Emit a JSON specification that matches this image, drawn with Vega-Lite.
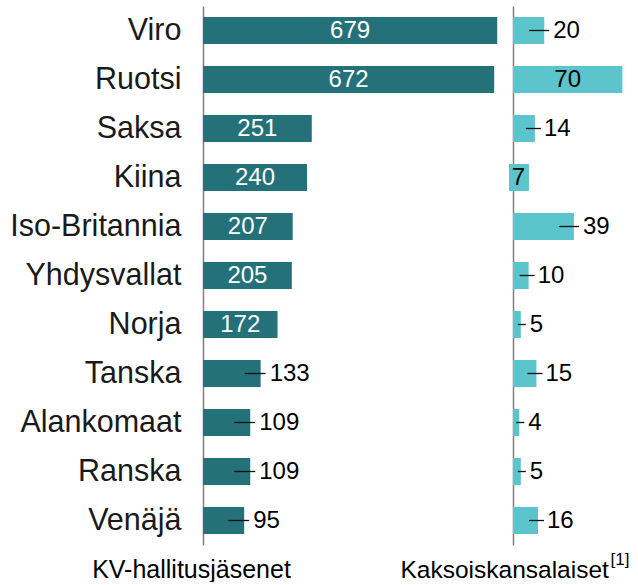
{
  "$schema": "https://vega.github.io/schema/vega-lite/v6.json",
  "padding": {"left": 9, "top": 6, "right": 0, "bottom": 0},
  "background": "white",
  "bounds": "flush",
  "spacing": 11,
  "config": {"view": {"stroke": null}, "font": "Liberation Sans"},
  "data": {"values": [
    {"maa": "Viro", "kv": 679, "kaksois": 20},
    {"maa": "Ruotsi", "kv": 672, "kaksois": 70},
    {"maa": "Saksa", "kv": 251, "kaksois": 14},
    {"maa": "Kiina", "kv": 240, "kaksois": 7},
    {"maa": "Iso-Britannia", "kv": 207, "kaksois": 39},
    {"maa": "Yhdysvallat", "kv": 205, "kaksois": 10},
    {"maa": "Norja", "kv": 172, "kaksois": 5},
    {"maa": "Tanska", "kv": 133, "kaksois": 15},
    {"maa": "Alankomaat", "kv": 109, "kaksois": 4},
    {"maa": "Ranska", "kv": 109, "kaksois": 5},
    {"maa": "Venäjä", "kv": 95, "kaksois": 16}
  ]},
  "hconcat": [
    {
      "width": 299,
      "height": 539,
      "resolve": {"scale": {"x": "independent"}, "axis": {"x": "independent"}},
      "layer": [
        {
          "mark": {"type": "bar", "color": "#25717a"},
          "encoding": {
            "y": {"field": "maa", "type": "nominal",
              "sort": ["Viro","Ruotsi","Saksa","Kiina","Iso-Britannia","Yhdysvallat","Norja","Tanska","Alankomaat","Ranska","Venäjä"],
              "scale": {"paddingInner": 0.45, "paddingOuter": 0.225},
              "axis": {"title": null, "domain": true, "domainColor": "#808080", "domainWidth": 1.5, "ticks": false, "labelFontSize": 30.5, "labelColor": "#1a1a1a", "labelPadding": 22, "labelLimit": 400}},
            "x": {"field": "kv", "type": "quantitative", "scale": {"domain": [0, 690]},
              "axis": {"title": "KV-hallitusjäsenet", "orient": "bottom", "domain": false, "ticks": false, "labels": false, "grid": false, "titleFontSize": 25, "titleFontWeight": "normal", "titleColor": "#000000", "titleX": -12, "titleY": 32, "titleAlign": "center", "titleBaseline": "alphabetic"}}
          }
        },
        {
          "transform": [{"filter": "datum.kv >= 150"}],
          "mark": {"type": "text", "color": "white", "fontSize": 24, "baseline": "middle"},
          "encoding": {
            "y": {"field": "maa", "type": "nominal", "sort": ["Viro","Ruotsi","Saksa","Kiina","Iso-Britannia","Yhdysvallat","Norja","Tanska","Alankomaat","Ranska","Venäjä"]},
            "x": {"field": "kv", "type": "quantitative", "scale": {"domain": [0, 1380]}, "axis": null},
            "text": {"field": "kv", "type": "quantitative"}
          }
        },
        {
          "transform": [{"filter": "datum.kv < 150"}],
          "mark": {"type": "rule", "color": "#111111", "strokeWidth": 1.3, "xOffset": -16, "x2Offset": 5},
          "encoding": {
            "y": {"field": "maa", "type": "nominal", "sort": ["Viro","Ruotsi","Saksa","Kiina","Iso-Britannia","Yhdysvallat","Norja","Tanska","Alankomaat","Ranska","Venäjä"]},
            "x": {"field": "kv", "type": "quantitative", "scale": {"domain": [0, 690]}, "axis": null},
            "x2": {"field": "kv"}
          }
        },
        {
          "transform": [{"filter": "datum.kv < 150"}],
          "mark": {"type": "text", "color": "#000000", "fontSize": 24, "align": "left", "baseline": "middle", "dx": 9},
          "encoding": {
            "y": {"field": "maa", "type": "nominal", "sort": ["Viro","Ruotsi","Saksa","Kiina","Iso-Britannia","Yhdysvallat","Norja","Tanska","Alankomaat","Ranska","Venäjä"]},
            "x": {"field": "kv", "type": "quantitative", "scale": {"domain": [0, 690]}, "axis": null},
            "text": {"field": "kv", "type": "quantitative"}
          }
        }
      ]
    },
    {
      "width": 125,
      "height": 539,
      "resolve": {"scale": {"x": "independent"}, "axis": {"x": "independent"}},
      "layer": [
        {
          "mark": {"type": "bar", "color": "#5bc5cb"},
          "encoding": {
            "y": {"field": "maa", "type": "nominal",
              "sort": ["Viro","Ruotsi","Saksa","Kiina","Iso-Britannia","Yhdysvallat","Norja","Tanska","Alankomaat","Ranska","Venäjä"],
              "scale": {"paddingInner": 0.45, "paddingOuter": 0.225},
              "axis": {"title": null, "domain": true, "domainColor": "#808080", "domainWidth": 1.5, "ticks": false, "labels": false}},
            "x": {"field": "kaksois", "type": "quantitative", "scale": {"domain": [0, 80]},
              "axis": {"title": "Kaksoiskansalaiset", "orient": "bottom", "domain": false, "ticks": false, "labels": false, "grid": false, "titleFontSize": 24.5, "titleFontWeight": "normal", "titleColor": "#000000", "titleX": -113, "titleY": 32, "titleAlign": "left", "titleBaseline": "alphabetic"}}
          }
        },
        {
          "transform": [{"filter": "datum.maa === 'Kiina'"}],
          "mark": {"type": "bar", "color": "#5bc5cb", "xOffset": 5, "x2Offset": -4},
          "encoding": {
            "y": {"field": "maa", "type": "nominal", "sort": ["Viro","Ruotsi","Saksa","Kiina","Iso-Britannia","Yhdysvallat","Norja","Tanska","Alankomaat","Ranska","Venäjä"]},
            "x": {"field": "kaksois", "type": "quantitative", "scale": {"domain": [0, 80]}, "axis": null},
            "x2": {"datum": 0}
          }
        },
        {
          "transform": [{"filter": "datum.kaksois >= 50 || datum.maa === 'Kiina'"}],
          "mark": {"type": "text", "color": "#000000", "fontSize": 24, "baseline": "middle"},
          "encoding": {
            "y": {"field": "maa", "type": "nominal", "sort": ["Viro","Ruotsi","Saksa","Kiina","Iso-Britannia","Yhdysvallat","Norja","Tanska","Alankomaat","Ranska","Venäjä"]},
            "x": {"field": "kaksois", "type": "quantitative", "scale": {"domain": [0, 160]},
              "axis": {"title": "[1]", "orient": "bottom", "domain": false, "ticks": false, "labels": false, "grid": false, "titleFontSize": 17, "titleFontWeight": "normal", "titleColor": "#000000", "titleX": 97, "titleY": 19, "titleAlign": "left", "titleBaseline": "alphabetic"}},
            "text": {"field": "kaksois", "type": "quantitative"}
          }
        },
        {
          "transform": [{"filter": "datum.kaksois >= 18 && datum.kaksois < 50"}],
          "mark": {"type": "rule", "color": "#111111", "strokeWidth": 1.3, "xOffset": -15, "x2Offset": 5},
          "encoding": {
            "y": {"field": "maa", "type": "nominal", "sort": ["Viro","Ruotsi","Saksa","Kiina","Iso-Britannia","Yhdysvallat","Norja","Tanska","Alankomaat","Ranska","Venäjä"]},
            "x": {"field": "kaksois", "type": "quantitative", "scale": {"domain": [0, 80]}, "axis": null},
            "x2": {"field": "kaksois"}
          }
        },
        {
          "transform": [{"filter": "datum.kaksois >= 9 && datum.kaksois < 18"}],
          "mark": {"type": "rule", "color": "#111111", "strokeWidth": 1.3, "xOffset": -9, "x2Offset": 6},
          "encoding": {
            "y": {"field": "maa", "type": "nominal", "sort": ["Viro","Ruotsi","Saksa","Kiina","Iso-Britannia","Yhdysvallat","Norja","Tanska","Alankomaat","Ranska","Venäjä"]},
            "x": {"field": "kaksois", "type": "quantitative", "scale": {"domain": [0, 80]}, "axis": null},
            "x2": {"field": "kaksois"}
          }
        },
        {
          "transform": [{"filter": "datum.kaksois < 6"}],
          "mark": {"type": "rule", "color": "#111111", "strokeWidth": 1.3, "xOffset": -3, "x2Offset": 5},
          "encoding": {
            "y": {"field": "maa", "type": "nominal", "sort": ["Viro","Ruotsi","Saksa","Kiina","Iso-Britannia","Yhdysvallat","Norja","Tanska","Alankomaat","Ranska","Venäjä"]},
            "x": {"field": "kaksois", "type": "quantitative", "scale": {"domain": [0, 80]}, "axis": null},
            "x2": {"field": "kaksois"}
          }
        },
        {
          "transform": [{"filter": "datum.kaksois < 50 && datum.maa !== 'Kiina'"}],
          "mark": {"type": "text", "color": "#000000", "fontSize": 24, "align": "left", "baseline": "middle", "dx": 9},
          "encoding": {
            "y": {"field": "maa", "type": "nominal", "sort": ["Viro","Ruotsi","Saksa","Kiina","Iso-Britannia","Yhdysvallat","Norja","Tanska","Alankomaat","Ranska","Venäjä"]},
            "x": {"field": "kaksois", "type": "quantitative", "scale": {"domain": [0, 80]}, "axis": null},
            "text": {"field": "kaksois", "type": "quantitative"}
          }
        }
      ]
    }
  ]
}
